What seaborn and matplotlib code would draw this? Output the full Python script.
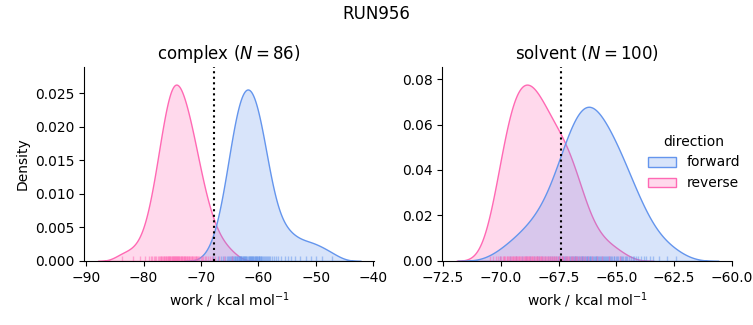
import numpy as np
import pandas as pd
import matplotlib
matplotlib.use("Agg")
import matplotlib.pyplot as plt
import seaborn as sns

run_name = "RUN956"
phases = ["complex", "solvent"]
directions = ["forward", "reverse"]
free_energy = {"complex": -67.7, "solvent": -67.38}
x_limits = {"complex": (-90.3, -39.9), "solvent": (-72.53, -60.0)}

complex_forward = [
    -62.05, -62.14, -62.23, -62.31, -62.40, -62.50, -62.59, -62.68, -62.77, -62.86,
    -62.96, -63.06, -63.15, -63.25, -63.35, -63.46, -63.56, -63.69, -63.79, -63.90,
    -64.03, -64.15, -64.28, -64.43, -64.58, -64.73, -64.90, -65.10, -65.30, -65.53,
    -65.80, -66.13, -66.50, -67.03, -67.95,
    -63.10, -64.65, -61.78, -61.69, -61.60, -61.51, -61.42, -61.33, -61.24, -61.15,
    -61.05, -60.96, -60.87, -60.77, -60.67, -60.58, -60.48, -60.38, -60.27, -60.17,
    -60.05, -59.99, -59.94, -59.82, -59.71, -59.59, -59.48, -59.33, -59.19, -59.04,
    -58.90, -58.72, -58.55, -58.35, -58.14, -57.91, -57.65, -57.36, -57.01, -56.58,
    -56.00, -54.92,
    -55.30, -54.40, -53.60, -52.70, -51.80, -50.90, -50.00, -48.90, -47.20,
]

complex_reverse = [
    -74.05, -74.13, -74.22, -74.31, -74.39, -74.48, -74.57, -74.66, -74.75, -74.84,
    -74.93, -75.02, -75.12, -75.21, -75.31, -75.40, -75.50, -75.61, -75.71, -75.81,
    -75.92, -76.02, -76.14, -76.25, -76.37, -76.49, -76.61, -76.73, -76.88, -77.03,
    -77.18, -77.36, -77.54, -77.75, -77.96, -78.20, -78.47, -78.77, -79.13, -79.70,
    -80.60, -81.80, -83.70,
    -73.95, -73.85, -73.74, -73.64, -73.54, -73.44, -73.33, -73.23, -73.12, -73.02,
    -72.91, -72.81, -72.70, -72.59, -72.47, -72.36, -72.25, -72.13, -72.01, -71.89,
    -71.76, -71.64, -71.51, -71.37, -71.23, -71.09, -70.95, -70.81, -70.64, -70.46,
    -70.29, -70.08, -69.87, -69.62, -69.38, -69.10, -68.78, -68.43, -68.01, -67.52,
    -66.89, -66.05, -64.62,
]

solvent_forward = [
    -70.05, -69.60, -69.35, -69.10,
    -68.92, -68.74, -68.58, -68.44, -68.33, -68.21, -68.08,
    -67.96, -67.88, -67.79, -67.70, -67.61, -67.53,
    -67.47, -67.42, -67.37, -67.32, -67.27, -67.22, -67.17, -67.12, -67.07, -67.02,
    -66.97, -66.93, -66.89, -66.85, -66.81, -66.77, -66.73, -66.69, -66.65, -66.61,
    -66.57, -66.53, -66.50,
    -66.47, -66.43, -66.40, -66.36, -66.33, -66.29, -66.26, -66.22, -66.19, -66.15,
    -66.12, -66.08, -66.05, -66.02,
    -65.98, -65.94, -65.90, -65.86, -65.82, -65.78, -65.73, -65.69, -65.65, -65.61,
    -65.57, -65.53,
    -65.48, -65.44, -65.39, -65.35, -65.30, -65.26, -65.21, -65.17, -65.12, -65.08,
    -65.03,
    -64.97, -64.92, -64.86, -64.81, -64.75, -64.70, -64.64, -64.59, -64.53,
    -64.46, -64.38, -64.30, -64.22, -64.14, -64.06,
    -63.95, -63.82, -63.70, -63.56, -63.40, -63.15, -62.80, -62.40,
]

solvent_reverse = [
    -70.45, -70.34, -70.21,
    -70.12, -70.05, -69.98, -69.92,
    -69.88, -69.84, -69.80, -69.75, -69.71, -69.67,
    -69.63, -69.60, -69.56, -69.52, -69.49, -69.45, -69.42,
    -69.38, -69.35, -69.32, -69.29, -69.26, -69.23, -69.20, -69.17,
    -69.13, -69.10, -69.04, -69.01, -68.97, -68.95, -68.92,
    -68.88, -68.85, -68.82, -68.79, -68.76, -68.73, -68.70, -68.67,
    -68.63, -68.60, -68.56, -68.52, -68.49, -68.45, -68.42,
    -68.38, -68.35, -68.31, -68.28, -68.24, -68.20, -68.17,
    -68.13, -68.09, -68.05, -68.00, -67.96, -67.92,
    -67.88, -67.84, -67.80, -67.75, -67.71, -67.67,
    -67.63, -67.57, -67.50, -67.46, -67.42,
    -67.36, -67.33, -67.30, -67.24, -67.18,
    -67.13, -67.08, -67.03, -66.98, -66.93,
    -66.87, -66.81, -66.75, -66.69,
    -66.61, -66.52, -66.44,
    -66.35, -66.22, -66.05, -65.85, -65.60, -65.30, -64.85,
]

series = {
    ("complex", "forward"): complex_forward,
    ("complex", "reverse"): complex_reverse,
    ("solvent", "forward"): solvent_forward,
    ("solvent", "reverse"): solvent_reverse,
}
frames = []
for (phase, direction), vals in series.items():
    frames.append(pd.DataFrame({"work": vals, "phase": phase, "direction": direction}))
df = pd.concat(frames, ignore_index=True)

palette = {"forward": "cornflowerblue", "reverse": "hotpink"}

g = sns.displot(
    data=df, x="work", hue="direction", col="phase", kind="kde",
    rug=True, fill=True, palette=palette, hue_order=directions,
    col_order=phases, facet_kws=dict(sharex=False, sharey=False),
    height=3, aspect=1.2, rug_kws=dict(alpha=0.5),
)

g.figure.set_size_inches(7.53, 3.25)
g.figure.subplots_adjust(left=0.112, right=0.972, bottom=0.197, top=0.794, wspace=0.236)

for ax, phase in zip(g.axes.flat, phases):
    n = len(series[(phase, "forward")])
    ax.set_title(f"{phase} ($N = {n}$)", fontsize=12)
    ax.axvline(free_energy[phase], color="k", ls=":", lw=1.5)
    ax.set_xlim(*x_limits[phase])

g.set_axis_labels("work / kcal mol$^{-1}$", "Density")
g.figure.suptitle(run_name, fontsize=12, y=0.985)

g.figure.savefig("out.png", dpi=100)
